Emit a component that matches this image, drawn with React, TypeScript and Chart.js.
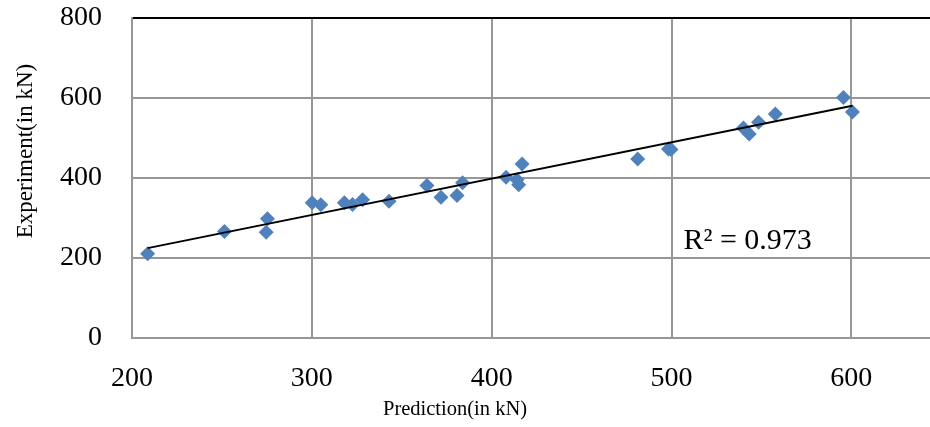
import React, { useEffect, useRef } from 'react';
import { Chart, registerables } from 'chart.js';

Chart.register(...registerables);

const prediction = [208.7, 251.4, 275.3, 274.6, 300.2, 305.0, 318.1, 322.6, 328.2, 342.9, 364.0, 371.8, 380.7, 383.8, 408.0, 414.1, 415.0, 416.9, 481.2, 498.3, 499.7, 540.0, 543.2, 548.4, 557.7, 595.6, 600.6];
const experiment = [210.5, 266.2, 297.8, 264.4, 337.7, 332.8, 337.7, 333.5, 345.2, 341.7, 380.9, 351.7, 356.0, 387.6, 401.6, 395.1, 382.6, 435.0, 447.5, 472.4, 471.2, 524.8, 509.9, 538.8, 559.7, 601.1, 564.7];

const xTicks = [200, 300, 400, 500, 600];
const yTicks = [0, 200, 400, 600, 800];

const trendSlope = 0.908;
const trendIntercept = 35;

const X_TITLE = 'Prediction(in kN)';
const Y_TITLE = 'Experiment(in kN)';
const R2_LABEL = 'R² = 0.973';
const R2_POS = [506.6, 241];

const FONT = '"Liberation Serif", "Times New Roman", serif';
const GRID = '#979797';

const SHIFT_Y = 29;
const EXTRA_W = 8;

const textPlugin = {
  id: 'textPlugin',
  afterDraw(chart: any) {
    const { ctx, scales } = chart;
    const x = scales.x;
    const y = scales.y;
    ctx.save();
    ctx.fillStyle = '#000';
    ctx.textBaseline = 'middle';
    ctx.textAlign = 'left';
    ctx.font = `30px ${FONT}`;
    ctx.fillText(R2_LABEL, x.getPixelForValue(R2_POS[0]), y.getPixelForValue(R2_POS[1]));
    ctx.textAlign = 'center';
    ctx.font = `20.5px ${FONT}`;
    ctx.fillText(X_TITLE, 455, 410 + SHIFT_Y);
    ctx.translate(26, 151 + SHIFT_Y);
    ctx.rotate(-Math.PI / 2);
    ctx.font = `23px ${FONT}`;
    ctx.fillText(Y_TITLE, 0, 0);
    ctx.restore();
  },
};

export default function App() {
  const ref = useRef<HTMLCanvasElement | null>(null);
  useEffect(() => {
    if (!ref.current) return;
    const pts = prediction.map((p, i) => ({ x: p, y: experiment[i] }));
    const xmin = Math.min(...prediction);
    const xmax = Math.max(...prediction);
    const trend = [
      { x: xmin, y: trendSlope * xmin + trendIntercept },
      { x: xmax, y: trendSlope * xmax + trendIntercept },
    ];
    const chart = new Chart(ref.current, {
      type: 'scatter',
      data: {
        datasets: [
          {
            type: 'line',
            data: trend,
            borderColor: '#000',
            borderWidth: 2,
            pointRadius: 0,
            fill: false,
            order: 0,
          } as any,
          {
            data: pts,
            pointStyle: 'rectRot',
            pointRadius: 7.5,
            backgroundColor: '#4F81BD',
            borderColor: '#4F81BD',
            borderWidth: 0,
            order: 1,
          },
        ],
      },
      options: {
        responsive: false,
        animation: false,
        layout: { padding: 0 },
        plugins: { legend: { display: false }, tooltip: { enabled: false } },
        scales: {
          x: {
            type: 'linear',
            min: 200,
            max: 644,
            afterBuildTicks: (axis: any) => {
              axis.ticks = xTicks.map((v) => ({ value: v }));
            },
            afterFit: (scale: any) => {
              scale.height = 89;
            },
            grid: { color: GRID, lineWidth: 2, drawTicks: false },
            border: { color: GRID, width: 2 },
            ticks: { color: '#000', font: { family: FONT, size: 28 }, padding: 24, maxRotation: 0 },
          },
          y: {
            type: 'linear',
            min: 0,
            max: 800,
            afterBuildTicks: (axis: any) => {
              axis.ticks = yTicks.map((v) => ({ value: v }));
            },
            afterFit: (scale: any) => {
              scale.width = 132;
            },
            grid: {
              color: (c: any) => (c.tick && c.tick.value === 800 ? '#000' : GRID),
              lineWidth: 2,
              drawTicks: false,
            },
            border: { color: GRID, width: 2 },
            ticks: { color: '#000', font: { family: FONT, size: 28 }, padding: 30 },
          },
        },
      },
      plugins: [textPlugin],
    });
    return () => chart.destroy();
  }, []);
  return (
    <div style={{ position: 'absolute', left: 0, top: 0, width: 930, height: 427, overflow: 'hidden', background: '#fff' }}>
      <canvas
        ref={ref}
        width={930 + EXTRA_W}
        height={427 + SHIFT_Y}
        style={{ position: 'absolute', left: 0, top: -SHIFT_Y }}
      />
    </div>
  );
}
